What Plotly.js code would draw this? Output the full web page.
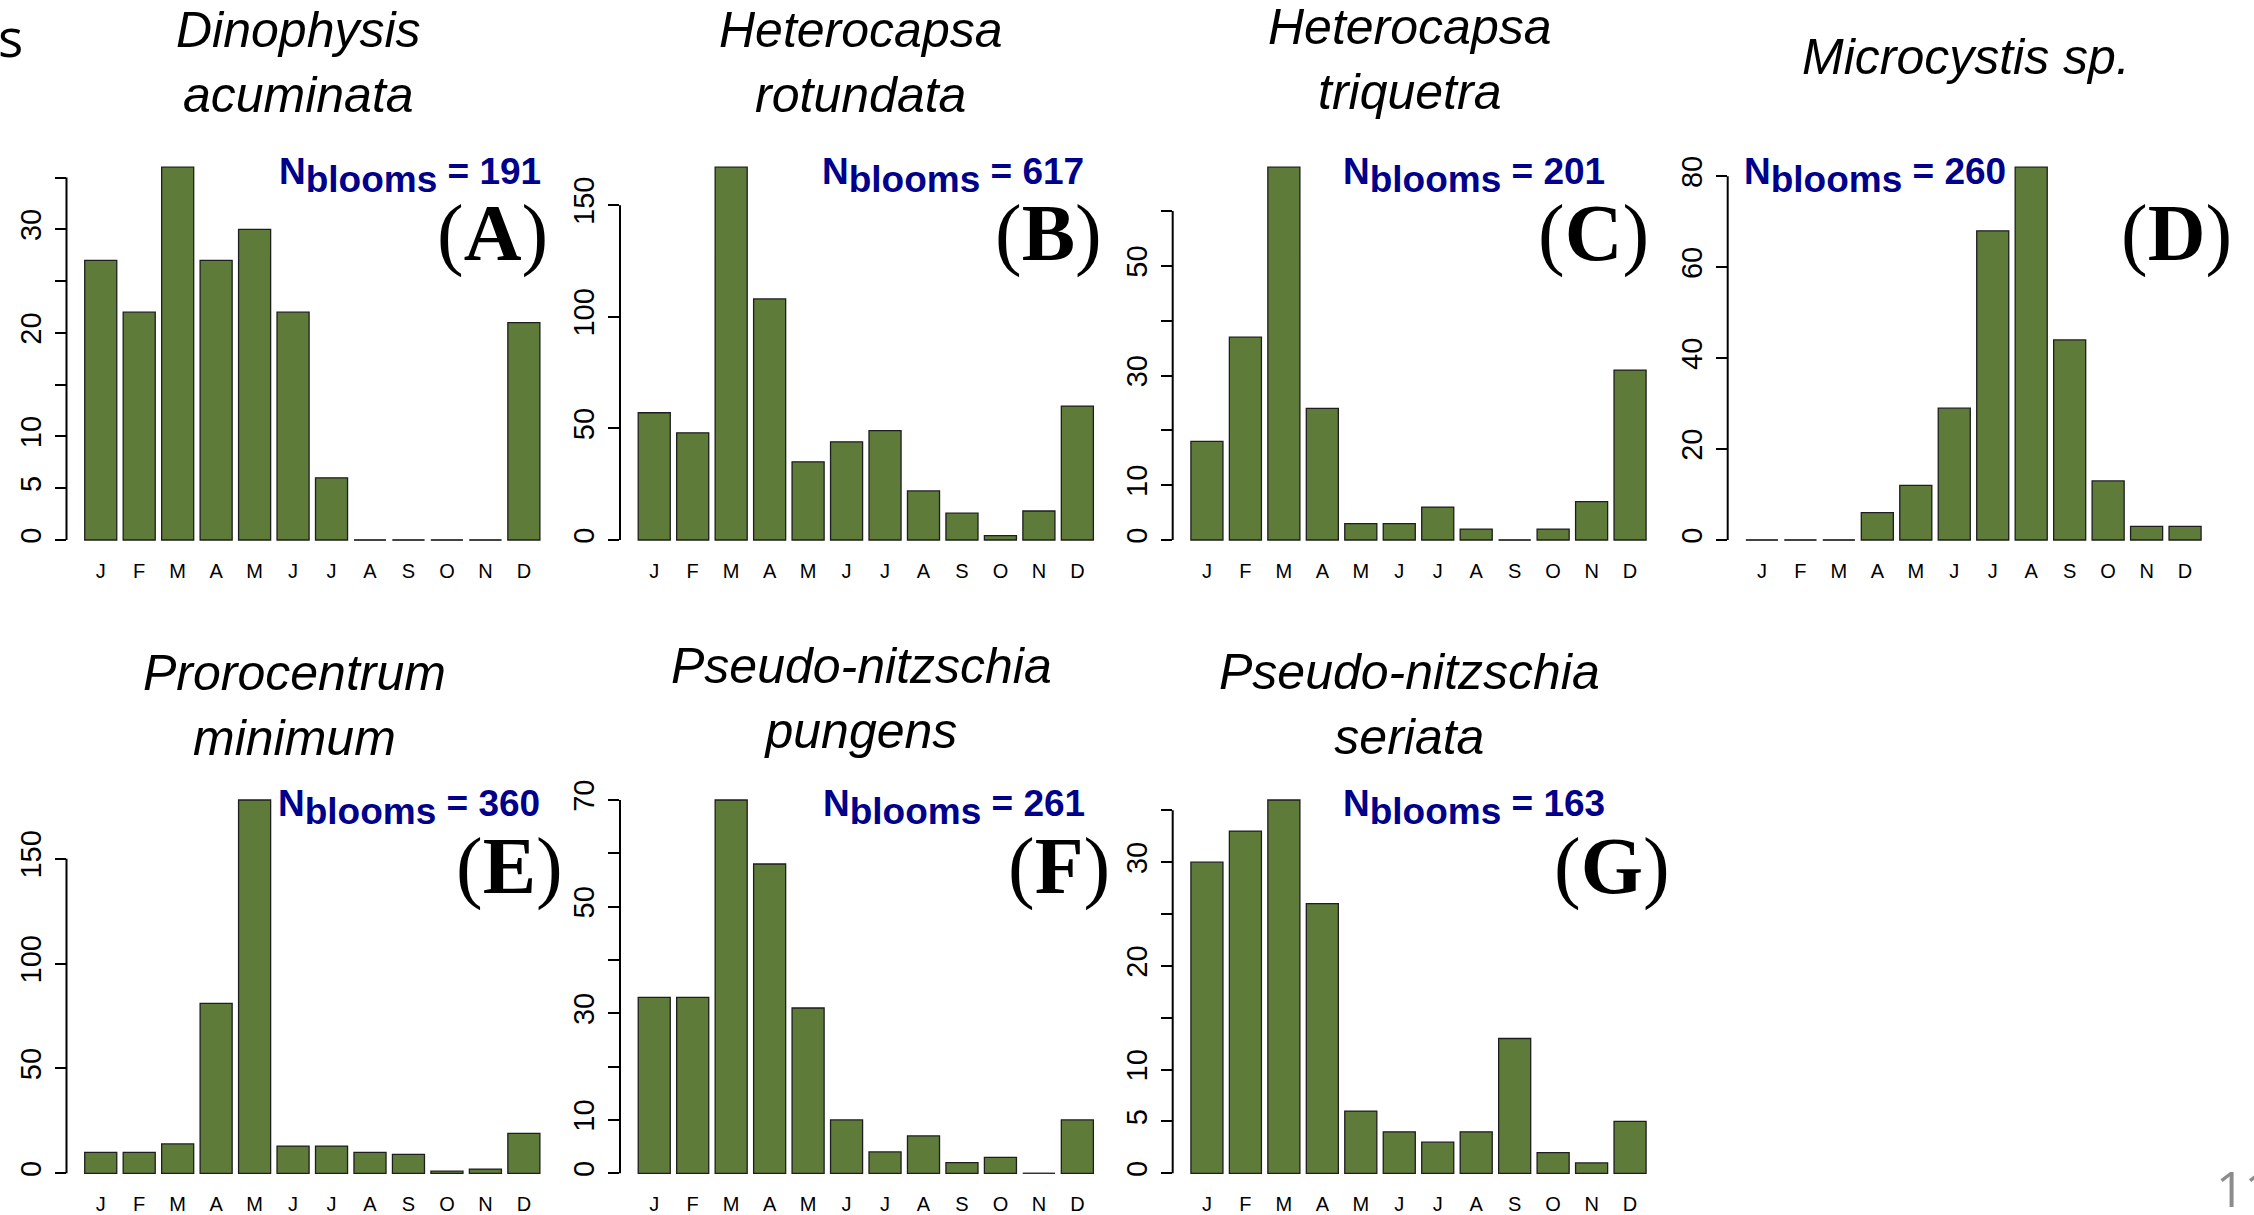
<!DOCTYPE html>
<html>
<head>
<meta charset="utf-8">
<script src="https://cdn.plot.ly/plotly-3.0.1.min.js"></script>
<style>
  html, body { margin: 0; padding: 0; background: #ffffff; }
  #chart { width: 2254px; height: 1215px; }
</style>
</head>
<body>
<div id="chart"></div>
<script>
// Monthly bloom counts per species (January .. December)
const months = ['J', 'F', 'M', 'A', 'M', 'J', 'J', 'A', 'S', 'O', 'N', 'D'];

const dinophysisAcuminata    = [27, 22, 36, 27, 30, 22, 6, 0, 0, 0, 0, 21];
const heterocapsaRotundata   = [57, 48, 167, 108, 35, 44, 49, 22, 12, 2, 13, 60];
const heterocapsaTriquetra   = [18, 37, 68, 24, 3, 3, 6, 2, 0, 2, 7, 31];
const microcystisSp          = [0, 0, 0, 6, 12, 29, 68, 82, 44, 13, 3, 3];
const prorocentrumMinimum    = [10, 10, 14, 81, 178, 13, 13, 10, 9, 1, 2, 19];
const pseudoNitzschiaPungens = [33, 33, 70, 58, 31, 10, 4, 7, 2, 3, 0, 10];
const pseudoNitzschiaSeriata = [30, 33, 36, 26, 6, 4, 3, 4, 13, 2, 1, 5];

const speciesTitles = [
  'Dinophysis<br>acuminata',
  'Heterocapsa<br>rotundata',
  'Heterocapsa<br>triquetra',
  'Microcystis sp.',
  'Prorocentrum<br>minimum',
  'Pseudo-nitzschia<br>pungens',
  'Pseudo-nitzschia<br>seriata'
];
const panelLetters = ['A', 'B', 'C', 'D', 'E', 'F', 'G'];

// labelled y ticks, and the extra unlabelled ticks in between
const yTicksA = [0, 5, 10, 20, 30];        const yBareTicksA = [15, 25, 35];
const yTicksB = [0, 50, 100, 150];         const yBareTicksB = [];
const yTicksC = [0, 10, 30, 50];           const yBareTicksC = [20, 40, 60];
const yTicksD = [0, 20, 40, 60, 80];       const yBareTicksD = [];
const yTicksE = [0, 50, 100, 150];         const yBareTicksE = [];
const yTicksF = [0, 10, 30, 50, 70];       const yBareTicksF = [20, 40, 60];
const yTicksG = [0, 5, 10, 20, 30];        const yBareTicksG = [15, 25, 35];

// ---- page geometry (pixels) ----
const W = 2254, H = 1215;
const PLOT_W = 491.6;
const BAR_W = 1 / 1.2;
const X_RANGE = [-0.89, 11.89];
const rows = [
  { zero: 540.0, peak: 167.2 },
  { zero: 1173.3, peak: 800.0 }
];
const geom = [
  { row: 0, axisX: 66.5,   title: [298, 47.8],    nText: [410.3, 185],   tag: [492.6, 233.5] },
  { row: 0, axisX: 620,    title: [861, 47],      nText: [952.6, 185],   tag: [1048.3, 233.5] },
  { row: 0, axisX: 1172.7, title: [1409.7, 44.5], nText: [1473.9, 185],  tag: [1593.5, 233.5] },
  { row: 0, axisX: 1727.7, title: [1965.5, 74.6], nText: [1875, 185],    tag: [2176, 233.5] },
  { row: 1, axisX: 66.5,   title: [294.5, 689.9], nText: [408.8, 816.7], tag: [509.3, 866.7] },
  { row: 1, axisX: 620,    title: [861, 683],     nText: [954.2, 816.7], tag: [1059.2, 866.7] },
  { row: 1, axisX: 1172.7, title: [1409.5, 689],  nText: [1473.7, 816.7], tag: [1611.7, 866.7] }
];

const px = v => v / W;
const py = v => 1 - v / H;

const series = [dinophysisAcuminata, heterocapsaRotundata, heterocapsaTriquetra, microcystisSp,
                prorocentrumMinimum, pseudoNitzschiaPungens, pseudoNitzschiaSeriata];
const tickSets = [yTicksA, yTicksB, yTicksC, yTicksD, yTicksE, yTicksF, yTicksG];
const bareTickSets = [yBareTicksA, yBareTicksB, yBareTicksC, yBareTicksD, yBareTicksE, yBareTicksF, yBareTicksG];

const SANS = 'Liberation Sans, Arial, Helvetica, sans-serif';
const SERIF = 'Liberation Serif, Times New Roman, serif';
const BAR_FILL = '#5f7b3a';
const BAR_EDGE = '#1e1e1e';
const N_COLOR = '#00008b';

const traces = [];
const shapes = [];
const annotations = [];
const layout = {
  width: W, height: H,
  margin: { l: 0, r: 0, t: 0, b: 0 },
  paper_bgcolor: '#ffffff',
  plot_bgcolor: 'rgba(0,0,0,0)',
  showlegend: false,
  bargap: 0
};

const monthIndex = months.map((m, i) => i);

series.forEach((vals, i) => {
  const id = i === 0 ? '' : String(i + 1);
  const g = geom[i];
  const r = rows[g.row];
  const peak = Math.max(...vals);
  const h = r.zero - r.peak;
  const bottom = r.zero + 0.04 * h;
  const top = r.peak - 0.04 * h;
  const ticks = tickSets[i];
  const bare = bareTickSets[i];

  layout['xaxis' + id] = {
    domain: [px(g.axisX), px(g.axisX + PLOT_W)],
    anchor: 'y' + id,
    range: X_RANGE,
    tickmode: 'array',
    tickvals: monthIndex,
    ticktext: months,
    ticks: '',
    showline: false, showgrid: false, zeroline: false,
    tickfont: { family: SANS, size: 20, color: '#000' },
    ticklabelstandoff: 2,
    fixedrange: true
  };
  layout['yaxis' + id] = {
    domain: [py(bottom), py(top)],
    anchor: 'x' + id,
    range: [-0.04 * peak, 1.04 * peak],
    tickmode: 'array',
    tickvals: ticks,
    ticktext: ticks.map(String),
    ticks: 'outside', ticklen: 11, tickwidth: 2, tickcolor: '#000',
    minor: {
      tickmode: 'array', tickvals: bare,
      ticks: bare.length ? 'outside' : '', ticklen: 11, tickwidth: 2, tickcolor: '#000',
      showgrid: false
    },
    tickangle: -90,
    showline: false, showgrid: false, zeroline: false,
    tickfont: { family: SANS, size: 29, color: '#000' },
    ticklabelstandoff: 2,
    fixedrange: true
  };

  traces.push({
    type: 'bar',
    x: monthIndex,
    y: vals,
    width: BAR_W,
    xaxis: 'x' + id, yaxis: 'y' + id,
    marker: { color: BAR_FILL, line: { color: BAR_EDGE, width: 1.3 } },
    hoverinfo: 'skip'
  });

  // empty months still show the flat outline of their bar
  const zx = [], zy = [];
  vals.forEach((v, j) => {
    if (v === 0) { zx.push(j - BAR_W / 2, j + BAR_W / 2, null); zy.push(v, v, null); }
  });
  if (zx.length) {
    traces.push({
      type: 'scatter', mode: 'lines', x: zx, y: zy,
      xaxis: 'x' + id, yaxis: 'y' + id,
      line: { color: '#333333', width: 1.2 },
      hoverinfo: 'skip', cliponaxis: false
    });
  }

  // y-axis line running from the lowest to the highest tick
  const allTicks = ticks.concat(bare);
  shapes.push({
    type: 'line', xref: 'x' + id + ' domain', yref: 'y' + id,
    x0: 0, x1: 0, y0: Math.min(...allTicks), y1: Math.max(...allTicks),
    line: { color: '#000', width: 2 }
  });

  // species title
  const lines = speciesTitles[i].split('<br>').length;
  const titleFont = 50;
  const titleCenter = lines === 2
    ? g.title[1] + 0.65 * titleFont - 0.3465 * titleFont
    : g.title[1] - 0.3465 * titleFont;
  annotations.push({
    xref: 'paper', yref: 'paper',
    x: px(g.title[0]), y: py(titleCenter),
    xanchor: 'center', yanchor: 'middle',
    text: '<i>' + speciesTitles[i] + '</i>',
    showarrow: false, align: 'center',
    font: { family: SANS, size: titleFont, color: '#000' }
  });

  // number of blooms
  const total = vals.reduce((a, b) => a + b, 0);
  annotations.push({
    xref: 'paper', yref: 'paper',
    x: px(g.nText[0]), y: py(g.nText[1] - 9),
    xanchor: 'center', yanchor: 'middle',
    text: 'N<sub><span style="font-size:37px">blooms</span></sub> = ' + total,
    showarrow: false,
    font: { family: SANS, size: 37, color: N_COLOR, weight: 'bold' }
  });

  // panel letter
  annotations.push({
    xref: 'paper', yref: 'paper',
    x: px(g.tag[0]), y: py(g.tag[1]),
    xanchor: 'center', yanchor: 'middle',
    text: '(<b>' + panelLetters[i] + '</b>)',
    showarrow: false,
    font: { family: SERIF, size: 80, color: '#000' }
  });
});

// slide fragments around the figure
annotations.push({
  xref: 'paper', yref: 'paper', x: px(25), y: py(37),
  xanchor: 'right', yanchor: 'middle', text: 's', showarrow: false,
  font: { family: 'Open Sans, sans-serif', size: 53, color: '#000' }
});
annotations.push({
  xref: 'paper', yref: 'paper', x: px(2214), y: py(1188),
  xanchor: 'left', yanchor: 'middle', text: '11', showarrow: false,
  font: { family: 'Open Sans, sans-serif', size: 50, color: '#8c8c8c' }
});

layout.shapes = shapes;
layout.annotations = annotations;

Plotly.newPlot('chart', traces, layout, { displayModeBar: false, staticPlot: true });
</script>
</body>
</html>
